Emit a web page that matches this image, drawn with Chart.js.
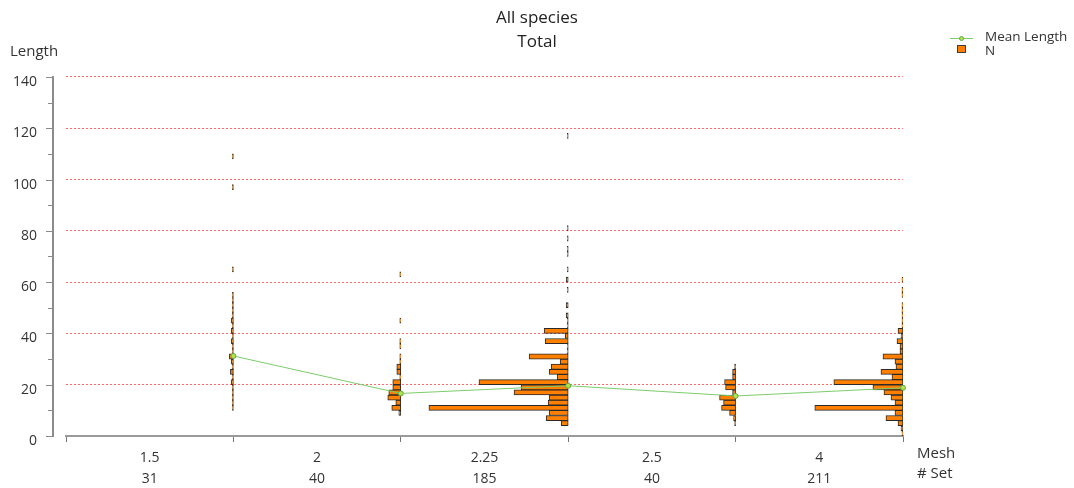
<!DOCTYPE html>
<html>
<head>
<meta charset="utf-8">
<title>All species - Total</title>
<script src="https://cdn.jsdelivr.net/npm/chart.js@4.4.1/dist/chart.umd.min.js"></script>
<style>
  html, body { margin: 0; padding: 0; background: #fff; }
</style>
</head>
<body>
<canvas id="lengthChart" width="1074" height="488"></canvas>
<script>
// Mesh sizes and number of sets (x-axis)
const meshes = ["1.5", "2", "2.25", "2.5", "4"];
const setCounts = ["31", "40", "185", "40", "211"];

// Mean length per mesh
const meanLength = [31.2, 16.6, 19.6, 15.6, 18.8];

// Length frequencies (N) per mesh, 2 cm bins from 0 (bin i = 2i .. 2i+2)
const binWidth = 2;
const n15 = [0, 0, 0, 0, 0, 1, 1, 1, 1, 1,
             2, 1, 3, 1, 2, 4, 1, 1, 2, 1,
             2, 1, 2, 1, 1, 1, 1, 1, 0, 0,
             0, 0, 1, 0, 0, 0, 0, 0, 0, 0,
             0, 0, 0, 0, 0, 0, 0, 0, 1, 0,
             0, 0, 0, 0, 1];
const n2 = [0, 0, 0, 0, 2, 9, 5, 13, 12, 8,
            8, 1, 4, 4, 1, 1, 0, 1, 1, 0,
            0, 0, 1, 0, 0, 0, 0, 0, 0, 0,
            0, 1];
const n225 = [0, 0, 7, 22, 19, 139, 20, 19, 54, 47,
              89, 11, 19, 17, 8, 39, 1, 1, 23, 3,
              24, 1, 1, 2, 0, 2, 0, 0, 1, 0,
              2, 0, 1, 0, 0, 1, 1, 0, 1, 0,
              1, 0, 0, 0, 0, 0, 0, 0, 0, 0,
              0, 0, 0, 0, 0, 0, 0, 0, 1];
const n25 = [0, 0, 1, 2, 6, 14, 12, 16, 3, 10, 11, 3, 3, 1];
const n4 = [1, 2, 5, 17, 8, 88, 8, 12, 19, 30,
            69, 11, 22, 7, 8, 20, 3, 3, 6, 2,
            5, 1, 1, 1, 1, 1, 0, 1, 1, 0,
            1];

// how many fish fill one mesh slot horizontally
const countsPerMesh = 167;

const histograms = [n15, n2, n225, n25, n4];

// each histogram hangs to the left of its mesh line (x = mesh index + 1)
function histData(counts, k) {
  const base = k + 1;
  const out = [];
  counts.forEach((c, i) => {
    if (c > 0) {
      out.push({ y: i * binWidth + binWidth / 2, x: [base - c / countsPerMesh, base] });
    }
  });
  return out;
}

const barSets = histograms.map((counts, k) => ({
  type: 'bar',
  label: 'N',
  indexAxis: 'y',
  data: histData(counts, k),
  backgroundColor: '#ff8000',
  borderColor: '#2a2a2a',
  borderWidth: 1,
  borderSkipped: false,
  grouped: false,
  barPercentage: 1,
  categoryPercentage: 1,
  order: 2
}));

const meanSet = {
  type: 'line',
  label: 'Mean Length',
  data: meanLength.map((v, i) => ({ x: i + 1, y: v })),
  borderColor: '#7ccc6c',
  borderWidth: 1,
  pointRadius: 2.5,
  pointBackgroundColor: '#b6e04c',
  pointBorderColor: '#5aaa48',
  pointBorderWidth: 1,
  clip: false,
  order: 0
};

// axis line, labels and legend drawn outside the plot
const decorations = {
  id: 'decorations',
  afterDraw(chart) {
    const { ctx } = chart;
    const y = chart.scales.y;
    const ax = 53;
    ctx.save();
    ctx.strokeStyle = '#8c8c8c';
    ctx.lineWidth = 2;
    ctx.beginPath();
    ctx.moveTo(ax, y.getPixelForValue(y.max) - 1);
    ctx.lineTo(ax, y.getPixelForValue(y.min) + 1);
    ctx.stroke();
    ctx.lineWidth = 1;
    for (let v = y.min; v <= y.max; v += 10) {
      const py = Math.round(y.getPixelForValue(v)) + 0.5;
      ctx.beginPath();
      ctx.moveTo(v % 20 === 0 ? ax - 7 : ax - 5, py);
      ctx.lineTo(ax, py);
      ctx.stroke();
    }

    ctx.fillStyle = '#333';
    ctx.textBaseline = 'middle';
    ctx.textAlign = 'left';
    ctx.font = '15px "Open Sans"';
    ctx.fillText('Length', 10, 52);
    ctx.fillText('Mesh', 917, 454);
    ctx.fillText('# Set', 917, 474);

    // legend
    ctx.strokeStyle = meanSet.borderColor;
    ctx.beginPath();
    ctx.moveTo(950, 38.5);
    ctx.lineTo(973, 38.5);
    ctx.stroke();
    ctx.fillStyle = meanSet.pointBackgroundColor;
    ctx.strokeStyle = meanSet.pointBorderColor;
    ctx.beginPath();
    ctx.arc(961.5, 38.5, 2, 0, Math.PI * 2);
    ctx.fill();
    ctx.stroke();
    ctx.fillStyle = '#ff8000';
    ctx.fillRect(957.5, 45.5, 8, 7);
    ctx.strokeStyle = '#3c3c3c';
    ctx.strokeRect(957.5, 45.5, 8, 7);
    ctx.fillStyle = '#333';
    ctx.font = '13.5px "Open Sans"';
    ctx.fillText('Mean Length', 985, 37);
    ctx.fillText('N', 985, 51);
    ctx.restore();
  }
};

const ctx = document.getElementById('lengthChart').getContext('2d');
new Chart(ctx, {
  type: 'bar',
  data: { datasets: [meanSet, ...barSets] },
  options: {
    responsive: false,
    animation: false,
    events: [],
    layout: { padding: 0 },
    plugins: {
      legend: { display: false },
      tooltip: { enabled: false },
      title: {
        display: true,
        text: ['All species', 'Total'],
        color: '#222',
        font: { family: 'Open Sans', size: 17, weight: 'normal', lineHeight: 1.41 },
        padding: { top: 6, bottom: 23 }
      }
    },
    scales: {
      x: {
        type: 'linear',
        min: 0,
        max: 5,
        offset: false,
        ticks: {
          stepSize: 1,
          autoSkip: false,
          maxRotation: 0,
          labelOffset: 83.7,
          padding: 6,
          color: '#333',
          font: { family: 'Open Sans', size: 14, lineHeight: 1.5 },
          callback: v => v < meshes.length ? [meshes[v], setCounts[v]] : ''
        },
        grid: { offset: false, drawOnChartArea: false, drawTicks: true, tickLength: 6, tickColor: '#777', tickWidth: 1 },
        border: { display: true, color: '#9a9a9a', width: 2 },
        afterFit: s => { s.height = 52; }
      },
      y: {
        type: 'linear',
        min: 0,
        max: 140,
        offset: false,
        ticks: {
          stepSize: 20,
          padding: 29,
          labelOffset: 5,
          color: '#333',
          font: { family: 'Open Sans', size: 14 }
        },
        // the line at 0 sits under the x axis border
        grid: { offset: false, drawTicks: false, lineWidth: 1, color: '#ff6a6a' },
        border: { display: false, dash: [2, 2] },
        afterFit: s => { s.width = 66; }
      },
      // empty space on the right that holds the legend and the Mesh / # Set captions
      side: {
        type: 'linear',
        position: 'right',
        display: true,
        grid: { display: false },
        border: { display: false },
        ticks: { display: false },
        afterFit: s => { s.width = 171; }
      }
    }
  },
  plugins: [decorations]
});
</script>
</body>
</html>
